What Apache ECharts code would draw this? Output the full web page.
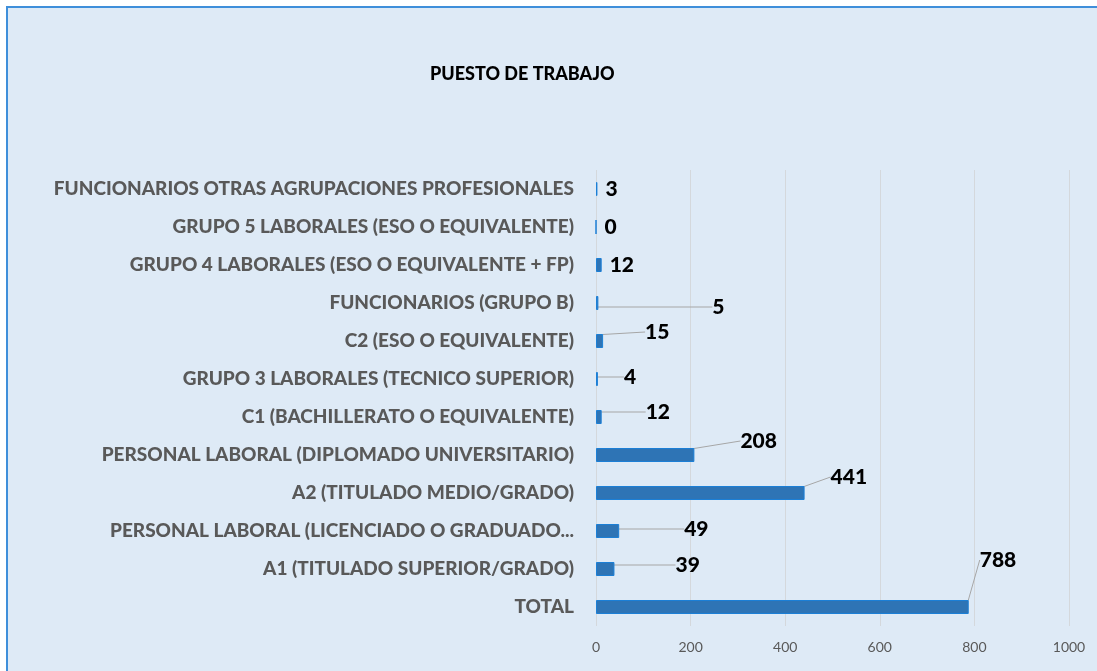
<!DOCTYPE html>
<html>
<head>
    <meta charset="utf-8" />
    <title>Puesto de trabajo</title>
    <style>
        html, body { margin: 0; padding: 0; background: #ffffff; overflow: hidden; }
        #marco { position: absolute; left: 6px; top: 6px; width: 1200px; height: 800px;
                 background: #DEEAF6; border: 2px solid #3F8FDA; }
        #charts { position: absolute; left: 0; top: 0; width: 1097px; height: 671px; }
    </style>
</head>
<body>
    <div id="marco"></div>
    <div id="charts"></div>
    <script src="https://cdn.jsdelivr.net/npm/echarts@6/dist/echarts.min.js"></script>
    <script type="text/javascript">
        // categorias (de abajo hacia arriba)
        var categorias = [
            'TOTAL',
            'A1 (TITULADO SUPERIOR/GRADO)',
            'PERSONAL LABORAL (LICENCIADO O GRADUADO...',
            'A2 (TITULADO MEDIO/GRADO)',
            'PERSONAL LABORAL (DIPLOMADO UNIVERSITARIO)',
            'C1 (BACHILLERATO O EQUIVALENTE)',
            'GRUPO 3 LABORALES (TECNICO SUPERIOR)',
            'C2 (ESO O EQUIVALENTE)',
            'FUNCIONARIOS (GRUPO B)',
            'GRUPO 4 LABORALES (ESO O EQUIVALENTE + FP)',
            'GRUPO 5 LABORALES (ESO O EQUIVALENTE)',
            'FUNCIONARIOS OTRAS AGRUPACIONES PROFESIONALES'
        ];
        var valores = [788, 39, 49, 441, 208, 12, 4, 15, 5, 12, 0, 3];
        var ticksX = [0, 200, 400, 600, 800, 1000];

        // desplazamiento de las etiquetas de datos (dx, dy)
        var desplaza = [
            [3, -47], [53, -4], [57, -2], [18, -16], [38, -14], [36, -5],
            [18, -2], [34, -9], [106, 4], [0, 0], [0, 0], [0, 0]
        ];

        var myChart = echarts.init(document.getElementById('charts'));

        // etiquetas sin linea guia cuando no se mueven
        var datos = valores.map(function (v, i) {
            var d = desplaza[i];
            var item = { value: v };
            if (d[0] === 0 && d[1] === 0) {
                item.labelLine = { show: false };
            }
            return item;
        });

        var option = {
            backgroundColor: 'transparent',
            textStyle: { fontFamily: 'Lato' },
            title: {
                text: 'PUESTO DE TRABAJO',
                left: 425,
                top: 60,
                textStyle: { fontFamily: 'Lato', fontWeight: 900, fontSize: 18, color: '#000000' }
            },
            grid: {
                left: 596,
                right: 28,
                top: 170,
                bottom: 45
            },
            xAxis: {
                type: 'value',
                min: ticksX[0],
                max: ticksX[ticksX.length - 1],
                interval: 200,
                axisLine: { show: false },
                axisTick: { show: false },
                splitLine: { lineStyle: { color: '#D4D8DC', width: 1 } },
                axisLabel: {
                    color: '#595959', fontSize: 14, margin: 14, fontFamily: 'Lato',
                    formatter: function (v) { return String(v); }
                }
            },
            yAxis: {
                type: 'category',
                data: categorias,
                axisLine: { show: false },
                axisTick: { show: false },
                axisLabel: {
                    color: '#595959',
                    fontSize: 19,
                    fontWeight: 900,
                    fontFamily: 'Lato',
                    margin: 22
                }
            },
            series: [
                {
                    name: 'PUESTO DE TRABAJO',
                    type: 'bar',
                    data: datos,
                    barWidth: 14,
                    itemStyle: { color: '#2E74B5', borderColor: '#1B7FD6', borderWidth: 1 },
                    label: {
                        show: true,
                        position: 'right',
                        distance: 8,
                        color: '#000000',
                        fontFamily: 'Lato',
                        fontWeight: 900,
                        fontSize: 21
                    },
                    labelLine: {
                        show: true,
                        lineStyle: { color: '#A6A6A6', width: 1 }
                    },
                    labelLayout: function (params) {
                        var d = desplaza[params.dataIndex];
                        return { dx: d[0], dy: d[1] };
                    }
                }
            ]
        };
        myChart.setOption(option);
    </script>
</body>
</html>
